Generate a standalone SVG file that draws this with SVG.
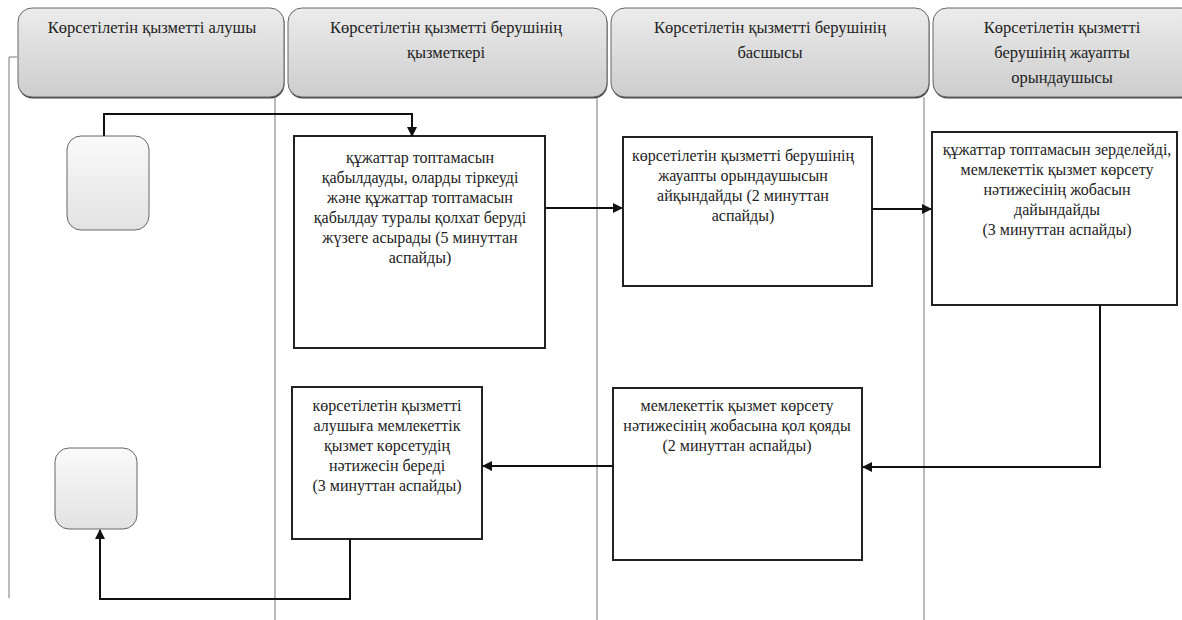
<svg xmlns="http://www.w3.org/2000/svg" width="1182" height="620" viewBox="0 0 1182 620">
<defs>
<linearGradient id="hg" x1="0" y1="0" x2="0" y2="1">
<stop offset="0" stop-color="#ececec"/>
<stop offset="0.6" stop-color="#d9d9d9"/>
<stop offset="1" stop-color="#cdcdcd"/>
</linearGradient>
<linearGradient id="tg" x1="0" y1="0" x2="0" y2="1">
<stop offset="0" stop-color="#fafafa"/>
<stop offset="1" stop-color="#e2e2e2"/>
</linearGradient>
<marker id="ah" viewBox="0 0 10 10" refX="9" refY="5" markerWidth="5" markerHeight="5" orient="auto">
<path d="M0,0 L10,5 L0,10 z" fill="#111"/>
</marker>
</defs>
<style>
.hdr{fill:url(#hg);stroke:#666;stroke-width:1}
.hsh{fill:#444;stroke:none}
.term{fill:url(#tg);stroke:#666;stroke-width:1}
.box{fill:#fff;stroke:#222;stroke-width:2}
.lane{stroke:#777;stroke-width:1;fill:none}
.conn{stroke:#111;stroke-width:2;fill:none;marker-end:url(#ah)}
.ht{font-size:16.5px}
.bt{font-size:16px}
</style>
<rect width="1182" height="620" fill="#fff"/>
<g id="lanes">
<path class="lane" d="M17,57 H9 V598"/>
<path class="lane" d="M275,97 V620"/>
<path class="lane" d="M597,97 V620"/>
<path class="lane" d="M924,97 V620"/>
</g>
<g font-family="Liberation Serif, Times New Roman, DejaVu Serif, serif" fill="#222" text-anchor="middle">
<g id="header-1">
<rect class="hsh" x="18.5" y="9.5" width="266" height="89" rx="14"/>
<rect class="hdr" x="18" y="8" width="266" height="89" rx="14"/>
<text class="ht" x="152" y="33">Көрсетілетін қызметті алушы</text>
</g>
<g id="header-2">
<rect class="hsh" x="288.5" y="9.5" width="319" height="89" rx="14"/>
<rect class="hdr" x="288" y="8" width="319" height="89" rx="14"/>
<text class="ht" x="446" y="33">Көрсетілетін қызметті берушінің</text>
<text class="ht" x="446" y="58">қызметкері</text>
</g>
<g id="header-3">
<rect class="hsh" x="611.5" y="9.5" width="318" height="89" rx="14"/>
<rect class="hdr" x="611" y="8" width="318" height="89" rx="14"/>
<text class="ht" x="770" y="33">Көрсетілетін қызметті берушінің</text>
<text class="ht" x="770" y="58">басшысы</text>
</g>
<g id="header-4">
<rect class="hsh" x="933.5" y="9.5" width="262" height="89" rx="14"/>
<rect class="hdr" x="933" y="8" width="262" height="89" rx="14"/>
<text class="ht" x="1062" y="33">Көрсетілетін қызметті</text>
<text class="ht" x="1062" y="58">берушінің жауапты</text>
<text class="ht" x="1062" y="83">орындаушысы</text>
</g>
<g id="start">
<rect class="term" x="67" y="136" width="82" height="94" rx="14"/>
</g>
<g id="end">
<rect class="term" x="55" y="448" width="82" height="81" rx="14"/>
</g>
<g id="step-1">
<rect class="box" x="294" y="136" width="251" height="212"/>
<text class="bt" x="420" y="163">құжаттар топтамасын</text>
<text class="bt" x="420" y="183">қабылдауды, оларды тіркеуді</text>
<text class="bt" x="420" y="203">және құжаттар топтамасын</text>
<text class="bt" x="420" y="223">қабылдау туралы қолхат беруді</text>
<text class="bt" x="420" y="243">жүзеге асырады  (5 минуттан</text>
<text class="bt" x="420" y="263">аспайды)</text>
</g>
<g id="step-2">
<rect class="box" x="623" y="137" width="249" height="149"/>
<text class="bt" x="743" y="161">көрсетілетін қызметті берушінің</text>
<text class="bt" x="743" y="181">жауапты орындаушысын</text>
<text class="bt" x="743" y="201">айқындайды (2 минуттан</text>
<text class="bt" x="743" y="221">аспайды)</text>
</g>
<g id="step-3">
<rect class="box" x="932" y="132" width="245" height="173"/>
<text class="bt" x="1057" y="155">құжаттар топтамасын зерделейді,</text>
<text class="bt" x="1057" y="175">мемлекеттік қызмет көрсету</text>
<text class="bt" x="1057" y="195">нәтижесінің жобасын</text>
<text class="bt" x="1057" y="215">дайындайды</text>
<text class="bt" x="1057" y="235">(3 минуттан аспайды)</text>
</g>
<g id="step-4">
<rect class="box" x="613" y="388" width="249" height="172"/>
<text class="bt" x="737" y="411">мемлекеттік қызмет көрсету</text>
<text class="bt" x="737" y="431">нәтижесінің жобасына қол қояды</text>
<text class="bt" x="737" y="451">(2 минуттан аспайды)</text>
</g>
<g id="step-5">
<rect class="box" x="292" y="387" width="190" height="152"/>
<text class="bt" x="387" y="411">көрсетілетін қызметті</text>
<text class="bt" x="387" y="431">алушыға мемлекеттік</text>
<text class="bt" x="387" y="451">қызмет көрсетудің</text>
<text class="bt" x="387" y="471">нәтижесін береді</text>
<text class="bt" x="387" y="491">(3 минуттан аспайды)</text>
</g>
</g>
<g id="connectors">
<path class="conn" d="M104,136 V114 H412 V136"/>
<path class="conn" d="M545,208 H622"/>
<path class="conn" d="M872,209 H931"/>
<path class="conn" d="M1100,305 V467 H863"/>
<path class="conn" d="M613,466 H483"/>
<path class="conn" d="M350,539 V599 H100 V530"/>
</g>
</svg>
